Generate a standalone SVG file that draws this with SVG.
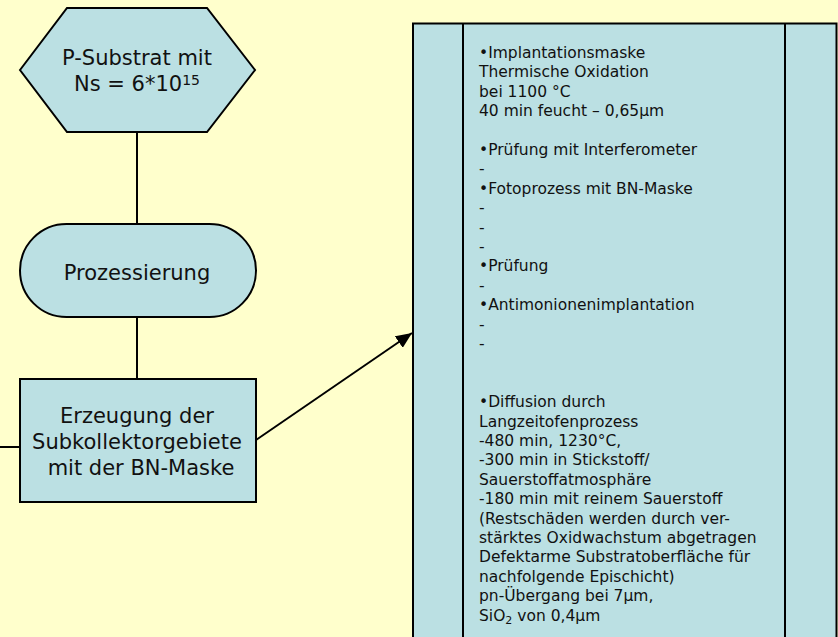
<svg xmlns="http://www.w3.org/2000/svg" width="838" height="637" viewBox="0 0 838 637">
  <defs>
    <marker id="arrow" markerUnits="userSpaceOnUse" markerWidth="18" markerHeight="14" refX="16" refY="7" orient="auto">
      <path d="M0,0 L16,7 L0,14 Z" fill="#000"/>
    </marker>
    <style>
      .node { fill: #BBE0E3; stroke: #000; stroke-width: 2; }
      .conn { stroke: #000; stroke-width: 2; fill: none; }
      .lbl { font-family: "DejaVu Sans", Verdana, sans-serif; font-size: 21px; fill: #111; text-anchor: middle; }
      .body { font-family: "DejaVu Sans", Verdana, sans-serif; font-size: 15.5px; fill: #111; }
    </style>
  </defs>
  <rect x="0" y="0" width="838" height="637" fill="#FFFFCC"/>

  <g id="connectors">
    <line class="conn" x1="137" y1="132" x2="137" y2="224"/>
    <line class="conn" x1="137" y1="317" x2="137" y2="379"/>
    <line class="conn" x1="0" y1="447" x2="20" y2="447"/>
    <line class="conn" x1="256" y1="440" x2="412" y2="333" marker-end="url(#arrow)"/>
  </g>

  <g id="node-substrat">
    <polygon class="node" points="20,70 67,8 207,8 255,70 207,132 67,132"/>
    <text class="lbl" x="137" y="65">P-Substrat mit</text>
    <text class="lbl" x="137" y="91">Ns = 6*10<tspan font-size="14" dy="-6">15</tspan></text>
  </g>

  <g id="node-prozessierung">
    <rect class="node" x="20" y="224" width="236" height="93" rx="46.5" ry="46.5"/>
    <text class="lbl" x="137" y="280">Prozessierung</text>
  </g>

  <g id="node-erzeugung">
    <rect class="node" x="20" y="379" width="236" height="123"/>
    <text class="lbl" x="137" y="423">Erzeugung der</text>
    <text class="lbl" x="137" y="449">Subkollektorgebiete</text>
    <text class="lbl" x="141" y="475">mit der BN-Maske</text>
  </g>

  <g id="node-details">
    <rect class="node" x="413" y="23.5" width="423.5" height="640"/>
    <line class="conn" x1="463" y1="23.5" x2="463" y2="640"/>
    <line class="conn" x1="785" y1="23.5" x2="785" y2="640"/>
    <text class="body" x="479" y="58">
      <tspan x="479" dy="0">•Implantationsmaske</tspan>
      <tspan x="479" dy="19.4">Thermische Oxidation</tspan>
      <tspan x="479" dy="19.4">bei 1100 °C</tspan>
      <tspan x="479" dy="19.4">40 min feucht – 0,65µm</tspan>
      <tspan x="479" dy="38.8">•Prüfung mit Interferometer</tspan>
      <tspan x="479" dy="19.4">-</tspan>
      <tspan x="479" dy="19.4">•Fotoprozess mit BN-Maske</tspan>
      <tspan x="479" dy="19.4">-</tspan>
      <tspan x="479" dy="19.4">-</tspan>
      <tspan x="479" dy="19.4">-</tspan>
      <tspan x="479" dy="19.4">•Prüfung</tspan>
      <tspan x="479" dy="19.4">-</tspan>
      <tspan x="479" dy="19.4">•Antimonionenimplantation</tspan>
      <tspan x="479" dy="19.4">-</tspan>
      <tspan x="479" dy="19.4">-</tspan>
      <tspan x="479" dy="58.2">•Diffusion durch</tspan>
      <tspan x="479" dy="19.4">Langzeitofenprozess</tspan>
      <tspan x="479" dy="19.4">-480 min, 1230°C,</tspan>
      <tspan x="479" dy="19.4">-300 min in Stickstoff/</tspan>
      <tspan x="479" dy="19.4">Sauerstoffatmosphäre</tspan>
      <tspan x="479" dy="19.4">-180 min mit reinem Sauerstoff</tspan>
      <tspan x="479" dy="19.4">(Restschäden werden durch ver-</tspan>
      <tspan x="479" dy="19.4">stärktes Oxidwachstum abgetragen</tspan>
      <tspan x="479" dy="19.4">Defektarme Substratoberfläche für</tspan>
      <tspan x="479" dy="19.4">nachfolgende Epischicht)</tspan>
      <tspan x="479" dy="19.4">pn-Übergang bei 7µm,</tspan>
      <tspan x="479" dy="19.4">SiO<tspan font-size="11" dy="3">2</tspan><tspan dy="-3"> von 0,4µm</tspan></tspan>
    </text>
  </g>
</svg>
